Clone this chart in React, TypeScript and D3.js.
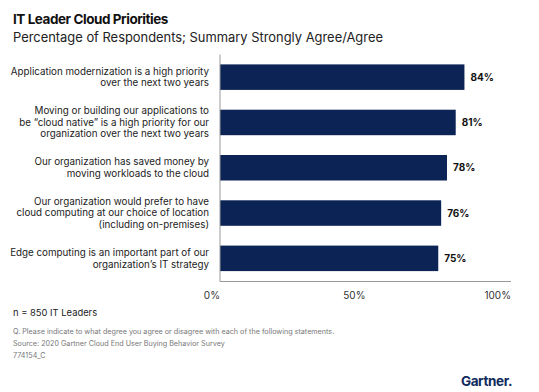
import React from "react";
import * as d3 from "d3";

const categories: string[][] = [
  ["Application modernization is a high priority", "over the next two years"],
  ["Moving or building our applications to", "be “cloud native” is a high priority for our", "organization over the next two years"],
  ["Our organization has saved money by", "moving workloads to the cloud"],
  ["Our organization would prefer to have", "cloud computing at our choice of location", "(including on-premises)"],
  ["Edge computing is an important part of our", "organization’s IT strategy"],
];
const values: number[] = [84, 81, 78, 76, 75];
const ticks: number[] = [0, 50, 100];
const tickLabels: string[] = ["0%", "50%", "100%"];

const W = 539;
const H = 392;
const FONT = "Inter, 'Noto Sans', sans-serif";
const NAVY = "#0c2356";

export default function App() {
  const x = d3.scaleLinear().domain([0, 100]).range([220, 511]);
  const y = d3
    .scaleBand<number>()
    .domain(values.map((_, i) => i))
    .range([54.5, 281])
    .paddingInner(0.437)
    .paddingOuter(0.2185);
  const lh = 11.6;
  return (
    <svg width={W} height={H} style={{ position: "absolute", left: 0, top: 0, background: "#fff" }} fontFamily={FONT}>
      <rect width={W} height={H} fill="#fff" />
      <text x={13} y={24} fontSize={13.5} fontWeight={700} fill="#111" letterSpacing={-0.45}>
        IT Leader Cloud Priorities
      </text>
      <text x={13} y={42} fontSize={12.9} fill="#222">
        Percentage of Respondents; Summary Strongly Agree/Agree
      </text>
      {values.map((v, i) => {
        const yc = (y(i) as number) + y.bandwidth() / 2;
        const lines = categories[i];
        return (
          <g key={i}>
            <rect x={x(0)} y={y(i)} width={x(v) - x(0)} height={y.bandwidth()} fill={NAVY} />
            <text x={x(v) + 6} y={yc} dy="0.35em" fontSize={10} fontWeight={700} fill="#111">
              {v}%
            </text>
            {lines.map((l, j) => (
              <text
                key={j}
                x={209}
                y={yc + (j - (lines.length - 1) / 2) * lh}
                dy="0.35em"
                textAnchor="end"
                fontSize={9.8}
                fill="#222"
              >
                {l}
              </text>
            ))}
          </g>
        );
      })}
      <line x1={x(0)} x2={x(0)} y1={54.5} y2={281.5} stroke="#999" strokeWidth={1} />
      <line x1={x(0)} x2={x(100)} y1={281.5} y2={281.5} stroke="#999" strokeWidth={1} />
      {ticks.map((t, i) => (
        <text key={t} x={x(t)} y={299} textAnchor="end" fontSize={10} fill="#333">
          {tickLabels[i]}
        </text>
      ))}
      <text x={13} y={316} fontSize={9.4} fill="#222">n = 850 IT Leaders</text>
      <text x={13} y={333.5} fontSize={7.2} fill="#777">
        Q. Please indicate to what degree you agree or disagree with each of the following statements.
      </text>
      <text x={13} y={345.5} fontSize={7.2} fill="#777">Source: 2020 Gartner Cloud End User Buying Behavior Survey</text>
      <text x={13} y={358} fontSize={7.2} fill="#777">774154_C</text>
      <text x={512} y={386} textAnchor="end" fontSize={13.5} fontWeight={700} fill="#0f2a5c" letterSpacing={-0.4}>
        Gartner.
      </text>
    </svg>
  );
}
